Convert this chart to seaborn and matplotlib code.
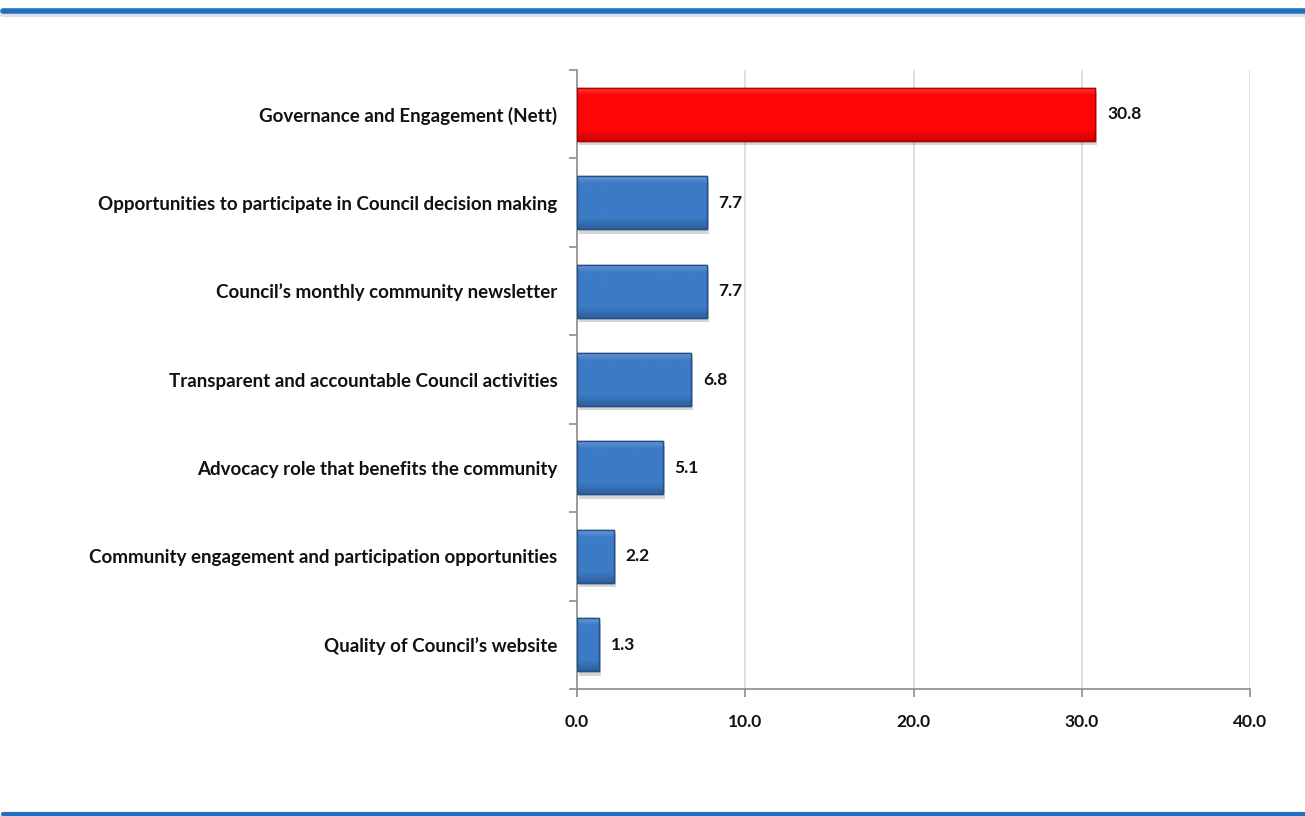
import numpy as np
import pandas as pd
import matplotlib
matplotlib.use("Agg")
import matplotlib.pyplot as plt
import seaborn as sns
from matplotlib.lines import Line2D
from matplotlib.ticker import FixedLocator
from matplotlib.colors import to_rgb

categories = [
    "Governance and Engagement (Nett)",
    "Opportunities to participate in Council decision making",
    "Council\u2019s monthly community newsletter",
    "Transparent and accountable Council activities",
    "Advocacy role that benefits the community",
    "Community engagement and participation opportunities",
    "Quality of Council\u2019s website",
]
values = [30.8, 7.7, 7.7, 6.8, 5.1, 2.2, 1.3]
x_ticks = [0, 10, 20, 30, 40]

sns.set_theme(style="white")
plt.rcParams["font.family"] = ["Lato", "DejaVu Sans"]

df = pd.DataFrame({"category": categories, "value": values})
base_cols = ["#FF0505"] + ["#3C7BC6"] * (len(categories) - 1)
edge_cols = ["#B40000"] + ["#23508A"] * (len(categories) - 1)

fig = plt.figure(figsize=(13.05, 8.16), dpi=100)
ax = fig.add_axes([577 / 1305, 1 - 689 / 816, (1250 - 577) / 1305, (689 - 70) / 816])

sns.barplot(data=df, x="value", y="category", hue="category", palette=base_cols,
            saturation=1, legend=False, width=0.6, ax=ax, zorder=3)


def shading(base, n=64):
    """Vertical colour ramp: light rim at the top, darker towards the bottom."""
    c = np.array(to_rgb(base))
    light = np.clip(c + 0.25 * (1 - c), 0, 1)
    dark = c * 0.78
    grad = np.empty((n, 1, 3))
    for k, tv in enumerate(np.linspace(0, 1, n)):
        if tv < 0.15:
            col = light + (c - light) * (tv / 0.15)
        elif tv < 0.8:
            col = c
        else:
            col = c + (dark - c) * ((tv - 0.8) / 0.2)
        grad[k, 0] = col
    return grad


for patch, base, ec in zip(list(ax.patches), base_cols, edge_cols):
    patch.set_edgecolor(ec)
    patch.set_linewidth(1.0)
    x0, y0 = patch.get_x(), patch.get_y()
    w, h = patch.get_width(), patch.get_height()
    # soft drop shadow
    ax.add_patch(plt.Rectangle((x0 + 0.12, y0 + 0.05), w, h, facecolor="#000000",
                               alpha=0.16, edgecolor="none", zorder=2))
    im = ax.imshow(shading(base), extent=(x0, x0 + w, y0 + h, y0), aspect="auto",
                   interpolation="bilinear", zorder=3.1)
    im.set_clip_path(patch)
    ax.add_patch(plt.Rectangle((x0, y0), w, h, facecolor="none", edgecolor=ec,
                               linewidth=1.0, zorder=3.2))

# value labels
for i, v in enumerate(values):
    ax.text(v + 0.7, i, f"{v:.1f}", va="center", ha="left", fontsize=12.5,
            fontweight="bold", color="#111111", zorder=4)

ax.set_xlim(0, 40)
ax.set_ylim(len(categories) - 0.5, -0.5)
ax.xaxis.set_major_locator(FixedLocator(x_ticks))
ax.set_xticklabels([f"{t:.1f}" for t in x_ticks], fontsize=12.5, color="#111111",
                   fontweight="bold")
for lab in ax.get_yticklabels():
    lab.set_fontweight("bold")
ax.grid(axis="x", color="#D9D9D9", linewidth=1.2, zorder=0)
ax.set_axisbelow(True)
ax.set_xlabel("")
ax.set_ylabel("")

# category boundary ticks on the value axis
ax.yaxis.set_minor_locator(FixedLocator(np.arange(-0.5, len(categories), 1.0)))
ax.tick_params(axis="y", which="major", length=0, pad=14, labelsize=13.5,
               labelcolor="#111111")
ax.tick_params(axis="y", which="minor", length=6, width=1.2, color="#8C8C8C",
               direction="out", left=True)
ax.tick_params(axis="x", which="major", length=6, width=1.2, color="#8C8C8C",
               direction="out", bottom=True, pad=12)

for side in ["top", "right"]:
    ax.spines[side].set_visible(False)
for side in ["left", "bottom"]:
    ax.spines[side].set_color("#8C8C8C")
    ax.spines[side].set_linewidth(1.2)

# horizontal rules framing the slide
for y, lw in [(1 - 11 / 816, 4.0), (1 - 814 / 816, 3.0)]:
    fig.add_artist(Line2D([3 / 1305, 1.0], [y - 0.003, y - 0.003],
                          transform=fig.transFigure, color="#000000",
                          alpha=0.12, linewidth=lw + 2))
    fig.add_artist(Line2D([3 / 1305, 1.0], [y, y], transform=fig.transFigure,
                          color="#1F6FC5", linewidth=lw))

fig.savefig("out.png", dpi=100, facecolor="white")
